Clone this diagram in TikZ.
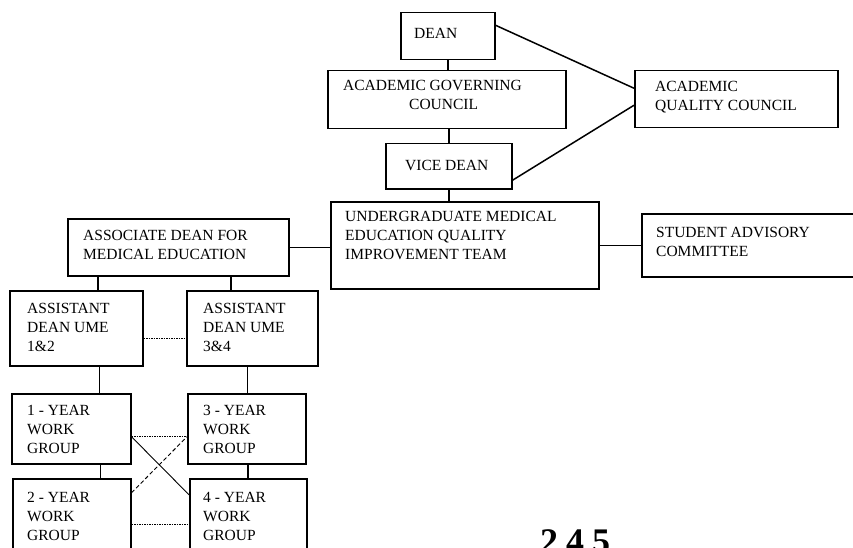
\documentclass[tikz,border=0pt]{standalone}
\usepackage{fontspec}
\setmainfont{Liberation Serif}
\begin{document}
\begin{tikzpicture}[x=1pt,y=-1pt,
  box/.style={draw, line width=1.5pt, inner sep=0pt, anchor=north west},
  txt/.style={font=\fontsize{15.5}{19}\selectfont, align=left, anchor=base west, inner sep=0pt},
  link/.style={line width=1.5pt},
  thin link/.style={line width=0.9pt},
  dotlink/.style={line width=0.9pt, dash pattern=on 1.5pt off 1pt},
  dashlink/.style={line width=0.9pt, dash pattern=on 4pt off 2.5pt}]
\useasboundingbox (0,0) rectangle (853,548);
\clip (0,0) rectangle (853,548);

% upper chain (text nodes are placed by the baseline of their last line)
\node[box, minimum width=94pt, minimum height=47pt] (dean) at (400,12) {};
\node[txt] (deanT) at (414,39) {DEAN};
\node[box, minimum width=238pt, minimum height=58pt] (agc) at (327,70) {};
\node[txt] (agcT) at (343,110) {ACADEMIC GOVERNING\\\hspace*{66pt}COUNCIL};
\node[box, minimum width=203pt, minimum height=57pt] (aqc) at (634,70) {};
\node[txt] (aqcT) at (655,111) {ACADEMIC\\QUALITY COUNCIL};
\node[box, minimum width=126pt, minimum height=45pt] (vd) at (385,143) {};
\node[txt] (vdT) at (405,171) {VICE DEAN};

% middle row
\node[box, minimum width=268pt, minimum height=87pt] (ume) at (330,201) {};
\node[txt] (umeT) at (345,259) {UNDERGRADUATE MEDICAL\\EDUCATION QUALITY\\IMPROVEMENT TEAM};
\node[box, minimum width=230pt, minimum height=63pt] (sac) at (641,213) {};
\node[txt] (sacT) at (656,256) {STUDENT ADVISORY\\COMMITTEE};
\node[box, minimum width=221pt, minimum height=57pt] (assoc) at (67,218) {};
\node[txt] (assocT) at (83,259) {ASSOCIATE DEAN FOR\\MEDICAL EDUCATION};

% assistant deans
\node[box, minimum width=133pt, minimum height=75pt] (ad12) at (9,290) {};
\node[txt] (ad12T) at (27,351) {ASSISTANT\\DEAN UME\\1\&2};
\node[box, minimum width=131pt, minimum height=75pt] (ad34) at (186,290) {};
\node[txt] (ad34T) at (203,351) {ASSISTANT\\DEAN UME\\3\&4};

% year work groups
\node[box, minimum width=119pt, minimum height=70pt] (y1) at (11,393) {};
\node[txt] (y1T) at (27,453) {1 - YEAR\\WORK\\GROUP};
\node[box, minimum width=118pt, minimum height=70pt] (y3) at (187,393) {};
\node[txt] (y3T) at (203,453) {3 - YEAR\\WORK\\GROUP};
\node[box, minimum width=118pt, minimum height=80pt] (y2) at (12,478) {};
\node[txt] (y2T) at (27,540) {2 - YEAR\\WORK\\GROUP};
\node[box, minimum width=117pt, minimum height=80pt] (y4) at (189,478) {};
\node[txt] (y4T) at (203,540) {4 - YEAR\\WORK\\GROUP};

% page number at the foot of the sheet
\node[font=\fontsize{36}{36}\selectfont\bfseries, anchor=north west, inner sep=0pt] (pg) at (540,529) {2\hspace{8pt}4\hspace{8pt}5};

% connectors
\draw[link] (dean.south) -- (dean.south |- agc.north);
\draw[link] (vd.north |- agc.south) -- (vd.north);
\draw[link] (vd.south) -- (vd.south |- ume.north);
\draw[link] ([yshift=11pt]dean.east) -- ([yshift=11pt]aqc.west);
\draw[link] ([yshift=-14pt]vd.east) -- ([yshift=-6pt]aqc.west);
\draw[link] (assoc.east) -- (assoc.east -| ume.west);
\draw[link] (sac.west -| ume.east) -- (sac.west);
\draw[link] ([xshift=21.5pt]ad12.north |- assoc.south) -- ([xshift=21.5pt]ad12.north);
\draw[link] ([xshift=-21.5pt]ad34.north |- assoc.south) -- ([xshift=-21.5pt]ad34.north);
\draw[dotlink] ([yshift=-10pt]ad12.east) -- ([yshift=-10pt]ad12.east -| ad34.west);
\draw[link] ([xshift=23pt]ad12.south) -- ([xshift=23pt]ad12.south |- y1.north);
\draw[link] ([xshift=-5pt]ad34.south) -- ([xshift=-5pt]ad34.south |- y3.north);
\draw[link] ([xshift=29pt]y1.south) -- ([xshift=29pt]y1.south |- y2.north);
\draw[link] ([xshift=1pt]y3.south) -- ([xshift=1pt]y3.south |- y4.north);
\draw[dotlink] ([yshift=-8pt]y1.east) -- ([yshift=-8pt]y1.east -| y3.west);
\draw[thin link] ([yshift=-8pt]y1.east) -- ([yshift=24pt]y4.west);
\draw[dashlink] ([yshift=26pt]y2.east) -- ([yshift=-8pt]y3.west);
\draw[dotlink] ([yshift=-6pt]y2.east) -- ([yshift=-6pt]y2.east -| y4.west);
\end{tikzpicture}
\end{document}
